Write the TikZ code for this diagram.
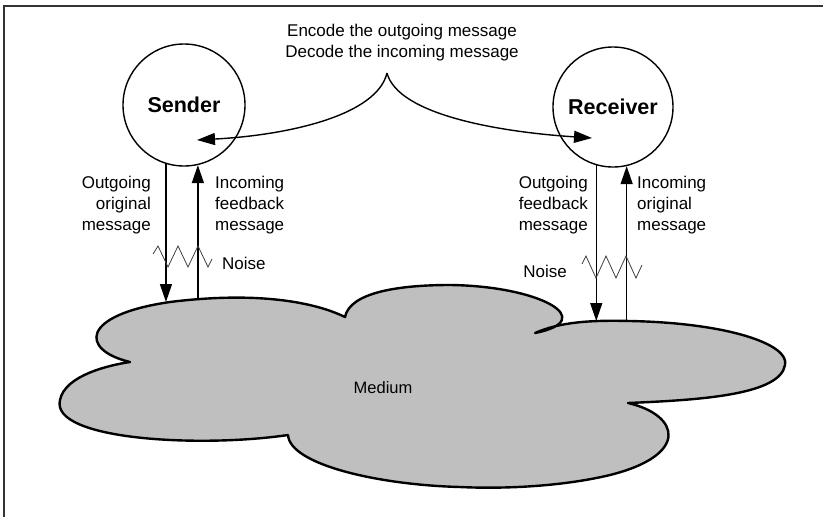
\documentclass[tikz,border=0pt]{standalone}
\usepackage{fontspec}
\setmainfont{Liberation Sans}
\usetikzlibrary{arrows.meta}
\begin{document}
\begin{tikzpicture}[x=1pt,y=-1pt,
  lbl/.style={font=\fontsize{17}{21}\selectfont, inner sep=0pt},
  party/.style={circle, draw, line width=1.4pt, inner sep=0pt, font=\fontsize{21.5}{24}\selectfont\bfseries},
  msg/.style={line width=1.4pt, -{Triangle[length=18pt,width=12pt]}},
  noise/.style={line width=0.8pt, black!75, line join=miter},
  cloudshape/.style={draw, line width=2.4pt, fill=black!25, line join=round}
]
\useasboundingbox (0,0) rectangle (823,517);
\draw[line width=2pt, black!80] (4,517) -- (4,6) -- (823,6);

% medium cloud
\draw[cloudshape]
  (130,362) .. controls (80,350) and (80,315) .. (170,302)
  .. controls (250,292) and (310,300) .. (345,317)
  .. controls (350,292) and (400,285) .. (450,285)
  .. controls (540,286) and (600,320) .. (535,333)
  .. controls (560,322) and (590,320) .. (630,321)
  .. controls (730,323) and (790,345) .. (785,365)
  .. controls (780,395) and (700,400) .. (628,403)
  .. controls (680,415) and (690,455) .. (610,475)
  .. controls (560,487) and (500,489) .. (460,487)
  .. controls (380,485) and (290,465) .. (288,435)
  .. controls (200,448) and (50,440) .. (60,400)
  .. controls (65,375) and (110,365) .. (130,362) -- cycle;
\node[lbl, font=\fontsize{16.5}{19}\selectfont] (medium) at (383,388) {Medium};

% parties
\node[party, minimum size=122pt] (sender) at (184,105) {Sender};
\node[party, minimum size=120pt] (receiver) at (613,107) {Receiver};

% brace arrow
\coordinate (apex) at (387,73);
\coordinate (bs) at (197,140);
\coordinate (br) at (592,138);
\draw[msg] (apex) .. controls (377,115) and (290,135) .. (bs);
\draw[msg] (apex) .. controls (398,115) and (500,132) .. (br);
\node[lbl, align=center] (task) at (402,43) {Encode the outgoing message\\Decode the incoming message};

% sender channels
\coordinate (sOut) at (166,302);
\coordinate (sIn) at (198,300);
\draw[msg] (sender.253) -- (sender.253 |- sOut);
\draw[msg] (sender.283 |- sIn) -- (sender.283);
\node[lbl, align=right, anchor=east] (sOutL) at (151,205) {Outgoing\\original\\message};
\node[lbl, align=left, anchor=west] (sInL) at (215,205) {Incoming\\feedback\\message};
\draw[noise] (153,254) -- (158,246) -- (168,267) -- (178,246) -- (188,267) -- (198,246) -- (208,267) -- (212,259);
\node[lbl, anchor=west] (sNoise) at (222,263) {Noise};

% receiver channels
\coordinate (rOut) at (597,321);
\coordinate (rIn) at (627,322);
\draw[msg] (receiver.254.5) -- (receiver.254.5 |- rOut);
\draw[msg] (receiver.283.5 |- rIn) -- (receiver.283.5);
\node[lbl, align=right, anchor=east] (rOutL) at (588,205) {Outgoing\\feedback\\message};
\node[lbl, align=left, anchor=west] (rInL) at (637,205) {Incoming\\original\\message};
\draw[noise] (582,264) -- (586,256) -- (596,278) -- (606,256) -- (616,278) -- (626,256) -- (636,278) -- (642,265);
\node[lbl, anchor=east] (rNoise) at (567,271) {Noise};
\end{tikzpicture}
\end{document}
